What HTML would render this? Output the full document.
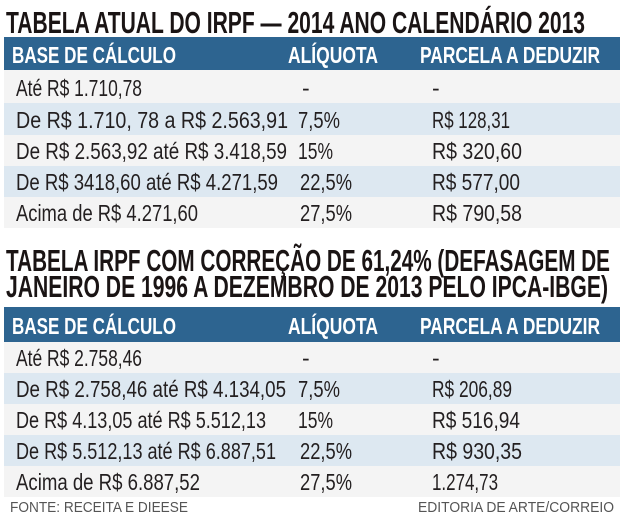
<!DOCTYPE html>
<html><head><meta charset="utf-8"><style>
html,body{margin:0;padding:0;background:#fff;width:620px;height:516px;overflow:hidden}
svg{display:block}
text{font-family:"Liberation Sans",sans-serif;fill:#231f20}
.t{font-weight:bold;font-size:31px;fill:#1a1414}
.h{font-weight:bold;font-size:23px;fill:#fff}
.r{font-size:23px}
.f{font-size:15px;fill:#555}
</style></head><body>
<svg width="620" height="516" viewBox="0 0 620 516" xmlns="http://www.w3.org/2000/svg">
<rect width="620" height="516" fill="#fff"/>
<text class="t" x="6" y="33" textLength="579" lengthAdjust="spacingAndGlyphs">TABELA ATUAL DO IRPF — 2014 ANO CALENDÁRIO 2013</text>
<rect x="4" y="37" width="616" height="33" fill="#2d6490"/>
<text class="h" x="12" y="63" textLength="164" lengthAdjust="spacingAndGlyphs">BASE DE CÁLCULO</text>
<text class="h" x="288" y="63" textLength="90" lengthAdjust="spacingAndGlyphs">ALÍQUOTA</text>
<text class="h" x="420" y="63" textLength="180" lengthAdjust="spacingAndGlyphs">PARCELA A DEDUZIR</text>
<rect x="4" y="70" width="616" height="33" fill="#f4f4f4"/>
<rect x="4" y="103" width="616" height="32" fill="#dde8f1"/>
<rect x="4" y="135" width="616" height="31" fill="#f4f4f4"/>
<rect x="4" y="166" width="616" height="31" fill="#dde8f1"/>
<rect x="4" y="197" width="616" height="31" fill="#f4f4f4"/>
<text class="r" x="16" y="96" textLength="126" lengthAdjust="spacingAndGlyphs">Até R$ 1.710,78</text>
<text class="r" x="302" y="96">-</text><text class="r" x="432" y="96">-</text>
<text class="r" x="16" y="128" textLength="272" lengthAdjust="spacingAndGlyphs">De R$ 1.710, 78 a R$ 2.563,91</text>
<text class="r" x="298" y="128" textLength="42" lengthAdjust="spacingAndGlyphs">7,5%</text>
<text class="r" x="432" y="128" textLength="78" lengthAdjust="spacingAndGlyphs">R$ 128,31</text>
<text class="r" x="16" y="159" textLength="271" lengthAdjust="spacingAndGlyphs">De R$ 2.563,92 até R$ 3.418,59</text>
<text class="r" x="298" y="159" textLength="35" lengthAdjust="spacingAndGlyphs">15%</text>
<text class="r" x="432" y="159" textLength="90" lengthAdjust="spacingAndGlyphs">R$ 320,60</text>
<text class="r" x="16" y="190" textLength="262" lengthAdjust="spacingAndGlyphs">De R$ 3418,60 até R$ 4.271,59</text>
<text class="r" x="300" y="190" textLength="52" lengthAdjust="spacingAndGlyphs">22,5%</text>
<text class="r" x="432" y="190" textLength="88" lengthAdjust="spacingAndGlyphs">R$ 577,00</text>
<text class="r" x="16" y="221" textLength="182" lengthAdjust="spacingAndGlyphs">Acima de R$ 4.271,60</text>
<text class="r" x="300" y="221" textLength="52" lengthAdjust="spacingAndGlyphs">27,5%</text>
<text class="r" x="432" y="221" textLength="90" lengthAdjust="spacingAndGlyphs">R$ 790,58</text>
<text class="t" x="6" y="271" textLength="604" lengthAdjust="spacingAndGlyphs">TABELA IRPF COM CORREÇÃO DE 61,24% (DEFASAGEM DE</text>
<text class="t" x="6" y="297" textLength="602" lengthAdjust="spacingAndGlyphs">JANEIRO DE 1996 A DEZEMBRO DE 2013 PELO IPCA-IBGE)</text>
<rect x="4" y="307" width="616" height="35" fill="#2d6490"/>
<text class="h" x="12" y="334" textLength="164" lengthAdjust="spacingAndGlyphs">BASE DE CÁLCULO</text>
<text class="h" x="288" y="334" textLength="90" lengthAdjust="spacingAndGlyphs">ALÍQUOTA</text>
<text class="h" x="420" y="334" textLength="180" lengthAdjust="spacingAndGlyphs">PARCELA A DEDUZIR</text>
<rect x="4" y="342" width="616" height="31" fill="#f4f4f4"/>
<rect x="4" y="373" width="616" height="31" fill="#dde8f1"/>
<rect x="4" y="404" width="616" height="31" fill="#f4f4f4"/>
<rect x="4" y="435" width="616" height="31" fill="#dde8f1"/>
<rect x="4" y="466" width="616" height="31" fill="#f4f4f4"/>
<text class="r" x="16" y="366" textLength="126" lengthAdjust="spacingAndGlyphs">Até R$ 2.758,46</text>
<text class="r" x="302" y="366">-</text><text class="r" x="432" y="366">-</text>
<text class="r" x="16" y="397" textLength="270" lengthAdjust="spacingAndGlyphs">De R$ 2.758,46 até R$ 4.134,05</text>
<text class="r" x="298" y="397" textLength="42" lengthAdjust="spacingAndGlyphs">7,5%</text>
<text class="r" x="432" y="397" textLength="80" lengthAdjust="spacingAndGlyphs">R$ 206,89</text>
<text class="r" x="16" y="428" textLength="250" lengthAdjust="spacingAndGlyphs">De R$ 4.13,05 até R$ 5.512,13</text>
<text class="r" x="298" y="428" textLength="35" lengthAdjust="spacingAndGlyphs">15%</text>
<text class="r" x="432" y="428" textLength="88" lengthAdjust="spacingAndGlyphs">R$ 516,94</text>
<text class="r" x="16" y="459" textLength="260" lengthAdjust="spacingAndGlyphs">De R$ 5.512,13 até R$ 6.887,51</text>
<text class="r" x="300" y="459" textLength="52" lengthAdjust="spacingAndGlyphs">22,5%</text>
<text class="r" x="432" y="459" textLength="90" lengthAdjust="spacingAndGlyphs">R$ 930,35</text>
<text class="r" x="16" y="490" textLength="184" lengthAdjust="spacingAndGlyphs">Acima de R$ 6.887,52</text>
<text class="r" x="300" y="490" textLength="52" lengthAdjust="spacingAndGlyphs">27,5%</text>
<text class="r" x="432" y="490" textLength="66" lengthAdjust="spacingAndGlyphs">1.274,73</text>
<text class="f" x="10" y="512" textLength="178" lengthAdjust="spacingAndGlyphs">FONTE: RECEITA E DIEESE</text>
<text class="f" x="418" y="512" textLength="196" lengthAdjust="spacingAndGlyphs">EDITORIA DE ARTE/CORREIO</text>
</svg>
</body></html>
